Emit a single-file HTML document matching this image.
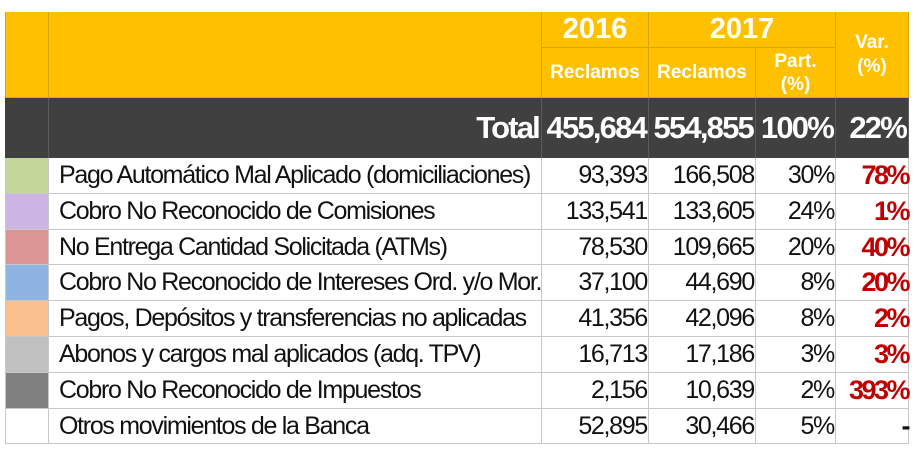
<!DOCTYPE html>
<html><head><meta charset="utf-8"><style>
body{margin:0;width:914px;height:451px;background:#fff;overflow:hidden;font-family:"Liberation Sans",Arial,sans-serif;position:relative}
.c{position:absolute;box-sizing:border-box;display:flex;align-items:center;white-space:nowrap}
.h{background:#FFC000;color:#fff;font-weight:bold;justify-content:center;text-align:center;border-right:1px solid #d9a300;border-bottom:1px solid #d9a300}
.t{background:#404040;color:#fff;font-weight:bold;font-size:31px;justify-content:flex-end;padding-right:2px;letter-spacing:-1.8px;border-right:1px solid #5a5a5a}
.r{border-right:1px solid #c8c8c8;border-bottom:1px solid #c8c8c8;font-size:25px;color:#111;letter-spacing:-1.3px}
.n{justify-content:flex-end;padding-right:1px}
.v{color:#C00000;font-weight:bold;font-size:27px;justify-content:flex-end;padding-right:0px;letter-spacing:-2.5px}
</style></head><body>
<div id="t"></div>
<script>
const labels=["Pago Automático Mal Aplicado (domiciliaciones)","Cobro No Reconocido de Comisiones","No Entrega Cantidad Solicitada (ATMs)","Cobro No Reconocido de Intereses Ord. y/o Mor.","Pagos, Depósitos y transferencias no aplicadas","Abonos y cargos mal aplicados (adq. TPV)","Cobro No Reconocido de Impuestos","Otros movimientos de la Banca"];
const v2016=["93,393","133,541","78,530","37,100","41,356","16,713","2,156","52,895"];
const v2017=["166,508","133,605","109,665","44,690","42,096","17,186","10,639","30,466"];
const part=["30%","24%","20%","8%","8%","3%","2%","5%"];
const varp=["78%","1%","40%","20%","2%","3%","393%","-"];
const swatches=["#C4D79B","#CCB4E4","#DA9694","#8DB4E2","#FAC090","#C0C0C0","#808080","#FFFFFF"];
const X=[5,49,542,649,756,836,909];
const root=document.getElementById('t');
function cell(cls,x,y,w,h,html,name){const d=document.createElement('div');d.className='c '+cls;d.style.cssText=`left:${x}px;top:${y}px;width:${w}px;height:${h}px`;d.innerHTML=html;


root.appendChild(d);return d;}
// header
cell('h',X[0],12,X[1]-X[0],86,'','header-blank-swatch').style.borderLeft='1px solid #d9a300';
cell('h',X[1],12,X[2]-X[1],86,'','header-blank-label');
cell('h',X[2],12,X[3]-X[2],36,'<span style="font-size:29px">2016</span>','header-2016');
cell('h',X[3],12,X[5]-X[3],36,'<span style="font-size:29px">2017</span>','header-2017');
cell('h',X[5],12,X[6]-X[5],86,'<span style="font-size:19px;line-height:24px">Var.<br>(%)</span>','header-var');
cell('h',X[2],48,X[3]-X[2],50,'<span style="font-size:19px">Reclamos</span>','header-reclamos-2016');
cell('h',X[3],48,X[4]-X[3],50,'<span style="font-size:19px">Reclamos</span>','header-reclamos-2017');
cell('h',X[4],48,X[5]-X[4],50,'<span style="font-size:19px;line-height:23px">Part.<br>(%)</span>','header-part');
// total
const ty=98,th=60;
cell('t',X[0],ty,X[1]-X[0],th,'','total-swatch');
cell('t',X[1],ty,X[2]-X[1],th,'Total','total-label');
cell('t',X[2],ty,X[3]-X[2],th,'455,684','total-2016');
cell('t',X[3],ty,X[4]-X[3],th,'554,855','total-2017');
cell('t',X[4],ty,X[5]-X[4],th,'100%','total-part');
cell('t',X[5],ty,X[6]-X[5],th,'22%','total-var');
const y0=158,rh=35.8;
labels.forEach((l,i)=>{const y=Math.round(y0+i*rh),h=Math.round(y0+(i+1)*rh)-y;
const s=cell('r',X[0],y,X[1]-X[0],h,'','swatch-row-'+i);s.style.background=swatches[i];s.style.borderLeft='1px solid #c8c8c8';
cell('r',X[1],y,X[2]-X[1],h,'<span style="padding-left:10px">'+l+'</span>','label-row-'+i);
cell('r n',X[2],y,X[3]-X[2],h,v2016[i],'value-2016-row-'+i);
cell('r n',X[3],y,X[4]-X[3],h,v2017[i],'value-2017-row-'+i);
cell('r n',X[4],y,X[5]-X[4],h,part[i],'part-row-'+i);
const vc=cell('r v',X[5],y,X[6]-X[5],h,varp[i],'var-row-'+i);
if(varp[i]==='-')vc.style.color='#111';
});
</script>
</body></html>
